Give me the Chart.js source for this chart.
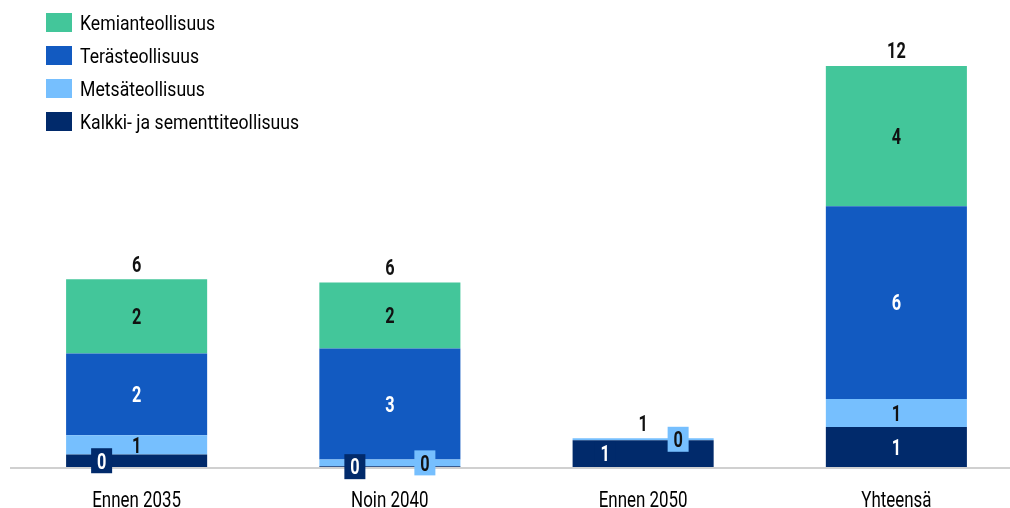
<!DOCTYPE html>
<html>
<head>
<meta charset="utf-8">
<script src="https://cdn.jsdelivr.net/npm/chart.js@4/dist/chart.umd.min.js"></script>
<style>
  html, body { margin:0; padding:0; background:#fff; overflow:hidden; }
  #wrap { position:relative; width:1034px; height:508px; }
  #legend { position:absolute; left:46px; top:13px; font-family:Roboto,sans-serif; font-size:21px; color:#000; }
  .lg { display:flex; align-items:center; height:19px; margin-bottom:14px; white-space:nowrap; }
  .lg span { display:inline-block; width:26px; height:19px; margin-right:8px; }
  .lg i { font-style:normal; display:inline-block; transform:scaleX(0.84); transform-origin:0 50%; }
</style>
</head>
<body>
<div id="wrap">
  <canvas id="chart" width="1034" height="508"></canvas>
  <div id="legend"></div>
</div>
<script>
const FONT = "Roboto, sans-serif";

const categories = ["Ennen 2035", "Noin 2040", "Ennen 2050", "Yhteensä"];
const seriesNames = ["Kalkki- ja sementtiteollisuus", "Metsäteollisuus", "Terästeollisuus", "Kemianteollisuus"];
const kalkki = [0.38, 0.02, 0.81, 1.21];
const metsa  = [0.58, 0.21, 0.06, 0.85];
const teras  = [2.48, 3.36, 0, 5.84];
const kemia  = [2.25, 2.00, 0, 4.25];

const colors = ["#012a6b", "#76bffe", "#125ac1", "#43c69a"];
const textColors = ["#fff", "#111", "#fff", "#111"];
// small segments get their label pushed sideways onto a badge
const labelShift = [[-35, -35, -38, 0], [0, 35, 35, 0], [0,0,0,0], [0,0,0,0]];

const series = [kalkki, metsa, teras, kemia];

// legend, top-most series first
let lh = "";
for (let i = series.length - 1; i >= 0; i--)
  lh += `<div class="lg"><span style="background:${colors[i]}"></span><i>${seriesNames[i]}</i></div>`;
document.getElementById("legend").innerHTML = lh;

// narrow text: squeeze horizontally, centre on (x, cy) using cap height
function narrowText(ctx, txt, x, cy, size, weight, color, sx) {
  ctx.save();
  ctx.font = `${weight} ${size}px ${FONT}`;
  ctx.fillStyle = color;
  ctx.textAlign = "center";
  ctx.textBaseline = "alphabetic";
  ctx.translate(x, cy + size * 0.711 / 2);
  ctx.scale(sx, 1);
  ctx.fillText(txt, 0, 0);
  ctx.restore();
}

const segLabels = {
  id: "segLabels",
  beforeDatasetsDraw(chart) {
    const {ctx, chartArea} = chart;
    ctx.save();
    ctx.fillStyle = "#d0d0d0";
    ctx.fillRect(chartArea.left, chartArea.bottom, chartArea.right - chartArea.left, 2);
    ctx.restore();
  },
  afterDatasetsDraw(chart) {
    const ctx = chart.ctx;
    chart.data.datasets.forEach((ds, di) => {
      chart.getDatasetMeta(di).data.forEach((bar, i) => {
        const v = ds.data[i];
        if (!v) return;
        const shift = labelShift[di][i];
        const x = bar.x + shift;
        const y = (bar.y + bar.base) / 2;
        if (shift) {
          ctx.fillStyle = colors[di];
          ctx.fillRect(x - 10.5, y - 12.5, 21, 25);
        }
        narrowText(ctx, String(Math.round(v)), x, y, 22, "bold", textColors[di], 0.74);
      });
    });
    // stack totals
    categories.forEach((c, i) => {
      const total = series.reduce((s, arr) => s + arr[i], 0);
      const x = chart.getDatasetMeta(0).data[i].x;
      const y = chart.scales.y.getPixelForValue(total);
      narrowText(ctx, String(Math.round(total)), x, y - 15.5, 22, "bold", "#111", 0.74);
    });
    // category labels
    categories.forEach((c, i) => {
      narrowText(ctx, c, chart.scales.x.getPixelForValue(i), chart.chartArea.bottom + 32.5, 22, "normal", "#000", 0.77);
    });
  }
};

new Chart(document.getElementById("chart"), {
  type: "bar",
  data: {
    labels: categories,
    datasets: series.map((d, i) => ({
      label: seriesNames[i], data: d, backgroundColor: colors[i],
      categoryPercentage: 1, barPercentage: 0.557, borderWidth: 0
    }))
  },
  options: {
    responsive: false, animation: false,
    layout: { padding: { left: 10, right: 11, top: 38, bottom: 0 } },
    plugins: { legend: { display: false }, tooltip: { enabled: false } },
    scales: {
      x: {
        stacked: true,
        grid: { display: false, drawTicks: false },
        border: { display: false },
        ticks: { display: false },
        afterFit: s => { s.height = 41; }
      },
      y: { stacked: true, display: false, min: 0, max: 13 }
    }
  },
  plugins: [segLabels]
});
</script>
</body>
</html>
